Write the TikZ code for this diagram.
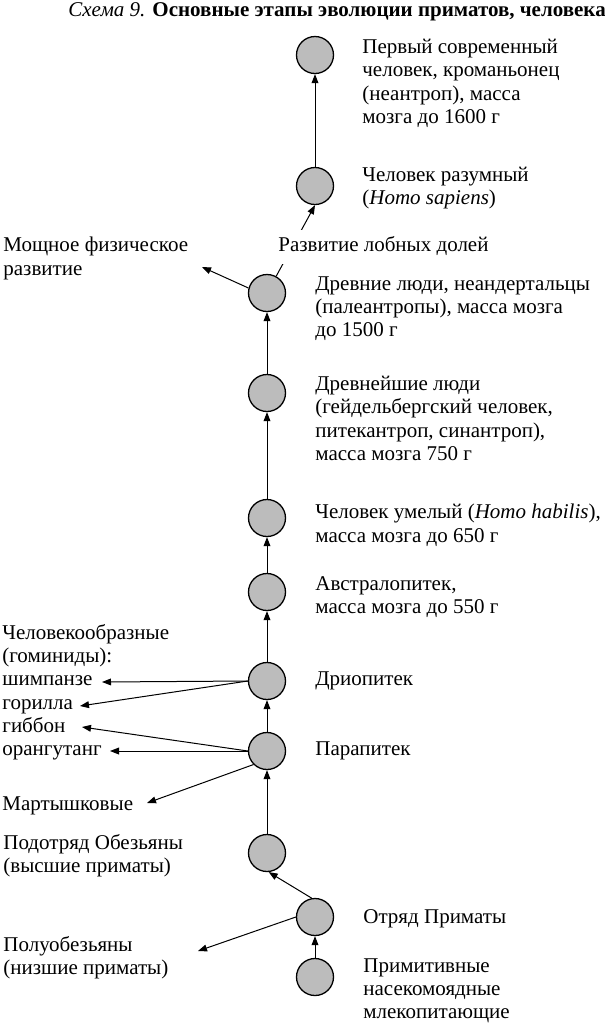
\documentclass[tikz,border=0pt]{standalone}
\usepackage{fontspec}
\setmainfont{Liberation Serif}
\usepackage{tikz}
\usetikzlibrary{arrows.meta}
\definecolor{stagefill}{RGB}{188,188,188}

\begin{document}
\begin{tikzpicture}[x=0.5pt, y=-0.5pt, font=\fontsize{10.5}{11.6}\selectfont,
  >={Triangle[length=4.5pt, width=3.4pt]},
  stage/.style={circle, draw, line width=0.65pt, fill=stagefill, minimum size=18.5pt, inner sep=0pt},
  txt/.style={anchor=north west, inner sep=0pt, align=left, execute at begin node=\strut},
  link/.style={->, line width=0.5pt}]
  \useasboundingbox (0,0) rectangle (605,1024);
  \node[anchor=base west, inner sep=0pt] (title) at (68,16)
    {\textit{Схема 9.} \textbf{Основные этапы эволюции приматов, человека}};
  % stages of the main line
  \node[stage] (cro) at (315,55) {};
  \node[stage] (sap) at (315,186) {};
  \node[stage] (nea) at (267,293) {};
  \node[stage] (arch) at (267,393) {};
  \node[stage] (hab) at (267,518) {};
  \node[stage] (aus) at (267,592) {};
  \node[stage] (dri) at (267,681) {};
  \node[stage] (para) at (267,751) {};
  \node[stage] (anth) at (267,853) {};
  \node[stage] (prim) at (315,917) {};
  \node[stage] (ins) at (315,977) {};
  % texts on the right
  \node[txt] (cro-t) at (362,39) {Первый современный\\человек, кроманьонец\\(неантроп), масса\\мозга до 1600 г};
  \node[txt] (sap-t) at (362,167) {Человек разумный\\(\textit{Homo sapiens})};
  \node[txt] (nea-t) at (315,276) {Древние люди, неандертальцы\\(палеантропы), масса мозга\\до 1500 г};
  \node[txt] (arch-t) at (315,376) {Древнейшие люди\\(гейдельбергский человек,\\питекантроп, синантроп),\\масса мозга 750 г};
  \node[txt] (hab-t) at (315,504) {Человек умелый (\textit{Homo habilis}),\\масса мозга до 650 г};
  \node[txt] (aus-t) at (315,576) {Австралопитек,\\масса мозга до 550 г};
  \node[txt] (dri-t) at (315,669) {Дриопитек};
  \node[txt] (para-t) at (315,739) {Парапитек};
  \node[txt] (prim-t) at (363,907) {Отряд Приматы};
  \node[txt] (ins-t) at (363,958) {Примитивные\\насекомоядные\\млекопитающие};
  % texts on the left
  \node[txt] (power-t) at (3,237) {Мощное физическое\\развитие};
  \node[txt] (hom-t) at (2,624) {Человекообразные\\(гоминиды):\\шимпанзе\\горилла\\гиббон\\орангутанг};
  \node[txt] (mon-t) at (2,794) {Мартышковые};
  \node[txt] (anth-t) at (3,834) {Подотряд Обезьяны\\(высшие приматы)};
  \node[txt] (semi-t) at (3,936) {Полуобезьяны\\(низшие приматы)};
  % free ends of the side branches
  \coordinate (power) at (202,267);
  \coordinate (chimp) at (102,682);
  \coordinate (gor) at (80,706);
  \coordinate (gib) at (82,727);
  \coordinate (orang) at (110,751);
  \coordinate (mon) at (147,803);
  \coordinate (semi) at (198,951);
  % main line
  \draw[link] (sap) -- (cro);
  \draw[link] (nea) -- (sap.south);
  \node[txt, fill=white, inner ysep=2.5pt] (lobe) at (278,230) {Развитие лобных долей};
  \draw[link] (arch) -- (nea);
  \draw[link] (hab) -- (arch);
  \draw[link] (aus) -- (hab);
  \draw[link] (dri) -- (aus);
  \draw[link] (para) -- (dri);
  \draw[link] (anth) -- (para);
  \draw[link] (prim.100) -- (anth.-85);
  \draw[link] (ins) -- (prim);
  % side branches
  \draw[link] (nea.165) -- (power);
  \draw[link] (dri.west) -- (chimp);
  \draw[link] (dri.west) -- (gor);
  \draw[link] (para.west) -- (gib);
  \draw[link] (para.west) -- (orang);
  \draw[link] (para.225) -- (mon);
  \draw[link] (prim.west) -- (semi);
\end{tikzpicture}
\end{document}
